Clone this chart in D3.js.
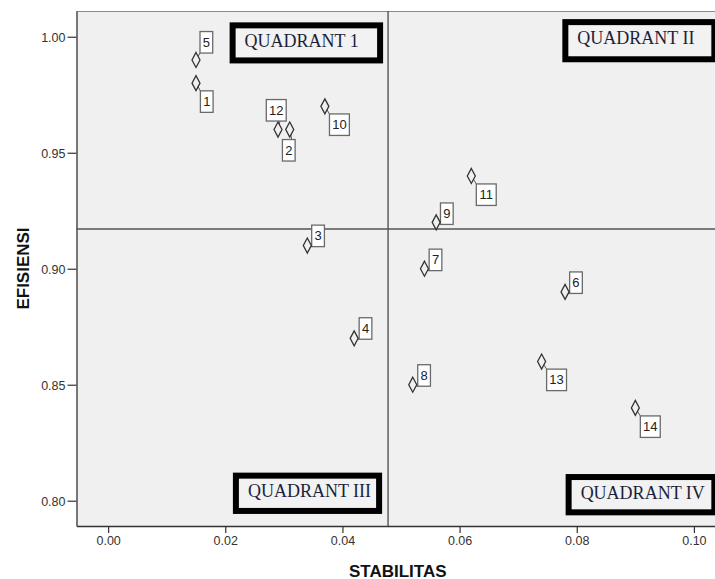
<!DOCTYPE html>
<html>
<head>
<meta charset="utf-8">
<script src="https://cdn.jsdelivr.net/npm/d3@7/dist/d3.min.js"></script>
<style>
  html, body { margin: 0; padding: 0; background: #ffffff; }
  svg { display: block; }
</style>
</head>
<body>
<svg id="chart" width="715" height="579"></svg>
<script>
// ---- data ----
const ids        = [1, 2, 3, 4, 5, 6, 7, 8, 9, 10, 11, 12, 13, 14];
const stabilitas = [0.015, 0.031, 0.034, 0.042, 0.015, 0.078, 0.054, 0.052, 0.056, 0.037, 0.062, 0.029, 0.074, 0.090];
const efisiensi  = [0.98, 0.96, 0.91, 0.87, 0.99, 0.89, 0.90, 0.85, 0.92, 0.97, 0.94, 0.96, 0.86, 0.84];
const xTicks = [0.00, 0.02, 0.04, 0.06, 0.08, 0.10];
const yTicks = [0.80, 0.85, 0.90, 0.95, 1.00];
const quadrantLabels = ["QUADRANT 1", "QUADRANT II", "QUADRANT III", "QUADRANT IV"];
const xTitle = "STABILITAS";
const yTitle = "EFISIENSI";

// ---- layout (not data) ----
const plot = { left: 76.5, top: 11, right: 715, bottom: 526 };
// quadrant boxes in data units: [x0, x1, yTop, yBottom]
const quadrantBoxes = [
  [0.02074, 0.04694, 1.0062, 0.9885],
  [0.07754, 0.1040, 1.0076, 0.9890],
  [0.02130, 0.04677, 0.8121, 0.7943],
  [0.07810, 0.1040, 0.8115, 0.7937]
];
// label box offset (left, top) relative to marker centre, by id
const labelOffset = {
  1: [4.4, 7.7], 2: [-7.3, 10], 3: [4.4, -20.4], 4: [5, -20.6], 5: [4, -28.4],
  6: [4.6, -20], 7: [4.7, -19.6], 8: [5, -20], 9: [4.3, -19.4], 10: [4.6, 7.6],
  11: [5, 8], 12: [-11.7, -30], 13: [5, 7.6], 14: [5, 8]
};

const svg = d3.select("#chart");

const x = d3.scaleLinear().domain([-0.0054, 0.1036]).range([plot.left, plot.right]);
const y = d3.scaleLinear().domain([0.7891, 1.0111]).range([plot.bottom, plot.top]);

// background
svg.append("rect")
  .attr("x", plot.left).attr("y", plot.top)
  .attr("width", plot.right - plot.left).attr("height", plot.bottom - plot.top)
  .attr("fill", "#f0f0f0");

// top border
svg.append("line")
  .attr("x1", plot.left).attr("x2", plot.right)
  .attr("y1", plot.top + 0.5).attr("y2", plot.top + 0.5)
  .attr("stroke", "#8a8a8a").attr("stroke-width", 1.2);

// axes
const xAxis = d3.axisBottom(x).tickValues(xTicks).tickFormat(d3.format(".2f"))
  .tickSizeInner(7).tickSizeOuter(0).tickPadding(3);
const gx = svg.append("g").attr("transform", `translate(0,${plot.bottom})`).call(xAxis);

const yAxis = d3.axisLeft(y).tickValues(yTicks).tickFormat(d3.format(".2f"))
  .tickSizeInner(9).tickSizeOuter(0).tickPadding(2);
const gy = svg.append("g").attr("transform", `translate(${plot.left},0)`).call(yAxis);

[gx, gy].forEach(g => {
  g.select(".domain").attr("stroke", "#333").attr("stroke-width", 1.3);
  g.selectAll(".tick line").attr("stroke", "#333").attr("stroke-width", 1.2);
  g.selectAll(".tick text").attr("fill", "#333")
    .style("font-family", "'Liberation Sans', Arial, sans-serif").style("font-size", "12.5px");
});
gy.selectAll(".tick text").attr("dy", "0.36em");

// reference lines at means
const meanX = d3.mean(stabilitas);
const meanY = d3.mean(efisiensi);
svg.append("line")
  .attr("x1", x(meanX)).attr("x2", x(meanX))
  .attr("y1", plot.top).attr("y2", plot.bottom)
  .attr("stroke", "#555").attr("stroke-width", 1.4);
svg.append("line")
  .attr("x1", plot.left).attr("x2", plot.right)
  .attr("y1", y(meanY)).attr("y2", y(meanY))
  .attr("stroke", "#555").attr("stroke-width", 1.4);

// quadrant annotation boxes
const bw = 6;
quadrantLabels.forEach((lab, i) => {
  const [x0, x1, yt, yb] = quadrantBoxes[i];
  const L = x(x0), R = x(x1), T = y(yt), B = y(yb);
  svg.append("rect")
    .attr("x", L + bw / 2).attr("y", T + bw / 2)
    .attr("width", R - L - bw).attr("height", B - T - bw)
    .attr("fill", "#f2f2f2").attr("stroke", "#000").attr("stroke-width", bw);
  svg.append("text")
    .attr("x", L + 15).attr("y", T + 24.8)
    .attr("fill", "#1b1f3a")
    .style("font-family", "'Liberation Serif', 'Times New Roman', serif")
    .style("font-size", "18px")
    .text(lab);
});

// points
const pts = ids.map((id, i) => ({ id, sx: stabilitas[i], ey: efisiensi[i] }));

const charW = 7.2, padW = 5.5, boxH = 21.5;
const labels = svg.append("g");
pts.forEach(p => {
  const cx = x(p.sx), cy = y(p.ey);
  const [dx, dy] = labelOffset[p.id];
  const w = String(p.id).length * charW + padW;
  const bx = cx + dx, by = cy + dy;
  // leader line to nearest box corner
  const cornerX = dx >= 0 ? bx : bx + (dx < -w / 2 ? w : 0);
  const cornerY = dy >= 0 ? by : by + boxH;
  labels.append("line")
    .attr("x1", cx).attr("y1", cy).attr("x2", dx < 0 && dx > -w ? cx + 2 : cornerX).attr("y2", cornerY)
    .attr("stroke", "#555").attr("stroke-width", 1);
  labels.append("rect")
    .attr("x", bx).attr("y", by).attr("width", w).attr("height", boxH)
    .attr("fill", "#ffffff").attr("stroke", "#6a6a6a").attr("stroke-width", 1.3);
  labels.append("text")
    .attr("x", bx + w / 2).attr("y", by + boxH / 2 + 4.6)
    .attr("text-anchor", "middle").attr("fill", "#222")
    .style("font-family", "'Liberation Sans', Arial, sans-serif").style("font-size", "13px")
    .text(p.id);
});

svg.append("g").selectAll("path")
  .data(pts).enter().append("path")
  .attr("d", "M0,-7.5L4,0L0,7.5L-4,0Z")
  .attr("transform", d => `translate(${x(d.sx)},${y(d.ey)})`)
  .attr("fill", "#f0f0f0").attr("stroke", "#333").attr("stroke-width", 1.3);

// axis titles
svg.append("text")
  .attr("x", (plot.left + plot.right) / 2 + 2).attr("y", 576.5)
  .attr("text-anchor", "middle").attr("fill", "#111")
  .style("font-family", "'Liberation Sans', Arial, sans-serif").style("font-size", "17px").style("font-weight", "bold")
  .text(xTitle);
svg.append("text")
  .attr("transform", `translate(28.5,${(plot.top + plot.bottom) / 2}) rotate(-90)`)
  .attr("text-anchor", "middle").attr("fill", "#111")
  .style("font-family", "'Liberation Sans', Arial, sans-serif").style("font-size", "17px").style("font-weight", "bold")
  .text(yTitle);
</script>
</body>
</html>
